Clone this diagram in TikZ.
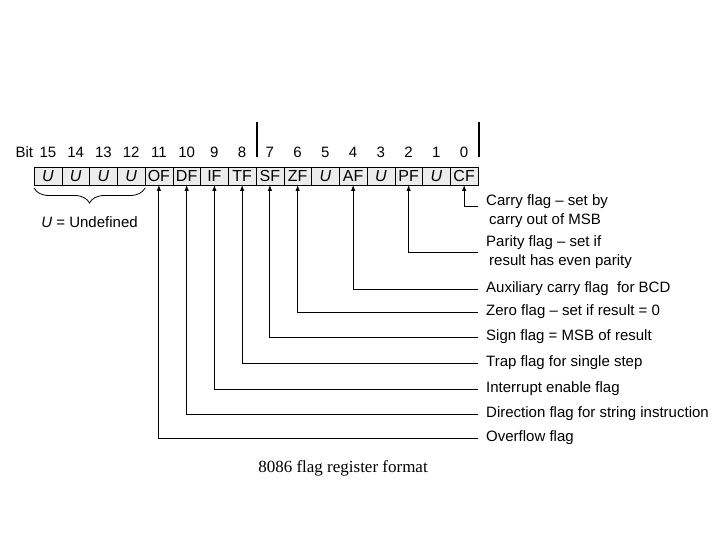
\documentclass[tikz,border=0pt]{standalone}
\usepackage{fontspec}
\setmainfont{Liberation Sans}
\newfontfamily\capfont{Liberation Serif}
\usetikzlibrary{arrows.meta,positioning,decorations.pathreplacing}

\begin{document}
\begin{tikzpicture}[x=1pt,y=-1pt]
    \tikzstyle{every node}=[inner sep=0pt,font=\fontsize{15}{19}\selectfont]
    \tikzstyle{bitcell}=[draw,fill=gray!15,outer sep=0pt,minimum width=27.75pt,
                         minimum height=18pt,font=\fontsize{16}{16}\selectfont]
    \tikzstyle{bitnum}=[font=\fontsize{15}{15}\selectfont]
    \tikzstyle{flagtext}=[anchor=west,inner xsep=8pt,align=left]
    \tikzstyle{flagline}=[draw,line width=0.9pt,{Latex[length=6pt,width=4.5pt]}-]

    \useasboundingbox (0,0) rectangle (720,540);

    % The register itself, bit 15 on the left
    \node (b15) [bitcell] at (47.9,176) {\textit{U}};
    \node (b14) [bitcell,right=0pt of b15] {\textit{U}};
    \node (b13) [bitcell,right=0pt of b14] {\textit{U}};
    \node (b12) [bitcell,right=0pt of b13] {\textit{U}};
    \node (b11) [bitcell,right=0pt of b12] {OF};
    \node (b10) [bitcell,right=0pt of b11] {DF};
    \node (b9)  [bitcell,right=0pt of b10] {IF};
    \node (b8)  [bitcell,right=0pt of b9]  {TF};
    \node (b7)  [bitcell,right=0pt of b8]  {SF};
    \node (b6)  [bitcell,right=0pt of b7]  {ZF};
    \node (b5)  [bitcell,right=0pt of b6]  {\textit{U}};
    \node (b4)  [bitcell,right=0pt of b5]  {AF};
    \node (b3)  [bitcell,right=0pt of b4]  {\textit{U}};
    \node (b2)  [bitcell,right=0pt of b3]  {PF};
    \node (b1)  [bitcell,right=0pt of b2]  {\textit{U}};
    \node (b0)  [bitcell,right=0pt of b1]  {CF};

    % bit numbers
    \node (n15) [bitnum,above=9pt of b15] {15};
    \node (n14) [bitnum,above=9pt of b14] {14};
    \node (n13) [bitnum,above=9pt of b13] {13};
    \node (n12) [bitnum,above=9pt of b12] {12};
    \node (n11) [bitnum,above=9pt of b11] {11};
    \node (n10) [bitnum,above=9pt of b10] {10};
    \node (n9)  [bitnum,above=9pt of b9]  {9};
    \node (n8)  [bitnum,above=9pt of b8]  {8};
    \node (n7)  [bitnum,above=9pt of b7]  {7};
    \node (n6)  [bitnum,above=9pt of b6]  {6};
    \node (n5)  [bitnum,above=9pt of b5]  {5};
    \node (n4)  [bitnum,above=9pt of b4]  {4};
    \node (n3)  [bitnum,above=9pt of b3]  {3};
    \node (n2)  [bitnum,above=9pt of b2]  {2};
    \node (n1)  [bitnum,above=9pt of b1]  {1};
    \node (n0)  [bitnum,above=9pt of b0]  {0};
    \node (bit) [bitnum,left=6pt of n15] {Bit};

    % the two short bars above the numbers
    \draw [line width=1.2pt] (257,122) -- (257,157);
    \draw [line width=1.2pt] (479,122) -- (479,157);

    % brace under the undefined bits
    \draw [decorate,decoration={brace,mirror,amplitude=15pt},line width=0.8pt]
        ([yshift=-3pt]b15.south west) -- ([yshift=-3pt]b12.south east)
        node (undef) [midway,below=28pt] {\textit{U} = Undefined};

    % flag descriptions
    \node (cf) [flagtext] at (478,211) {Carry flag -- set by\\\hspace{3pt}carry out of MSB};
    \node (pf) [flagtext] at (478,252) {Parity flag -- set if\\\hspace{3pt}result has even parity};
    \node (af) [flagtext] at (478,289) {Auxiliary carry flag\ \ for BCD};
    \node (zf) [flagtext] at (478,312) {Zero flag -- set if result = 0};
    \node (sf) [flagtext] at (478,337) {Sign flag = MSB of result};
    \node (tf) [flagtext] at (478,363) {Trap flag for single step};
    \node (if) [flagtext] at (478,389) {Interrupt enable flag};
    \node (df) [flagtext] at (478,414) {Direction flag for string instruction};
    \node (of) [flagtext] at (478,438) {Overflow flag};

    \draw [flagline] (b0.south)  |- ([yshift=5pt]cf.west);
    \draw [flagline] (b2.south)  |- (pf.west);
    \draw [flagline] (b4.south)  |- (af.west);
    \draw [flagline] (b6.south)  |- (zf.west);
    \draw [flagline] (b7.south)  |- (sf.west);
    \draw [flagline] (b8.south)  |- (tf.west);
    \draw [flagline] (b9.south)  |- (if.west);
    \draw [flagline] (b10.south) |- (df.west);
    \draw [flagline] (b11.south) |- (of.west);

    % caption
    \node (caption) at (343,468) {\capfont\fontsize{17}{17}\selectfont 8086 flag register format};
\end{tikzpicture}
\end{document}
